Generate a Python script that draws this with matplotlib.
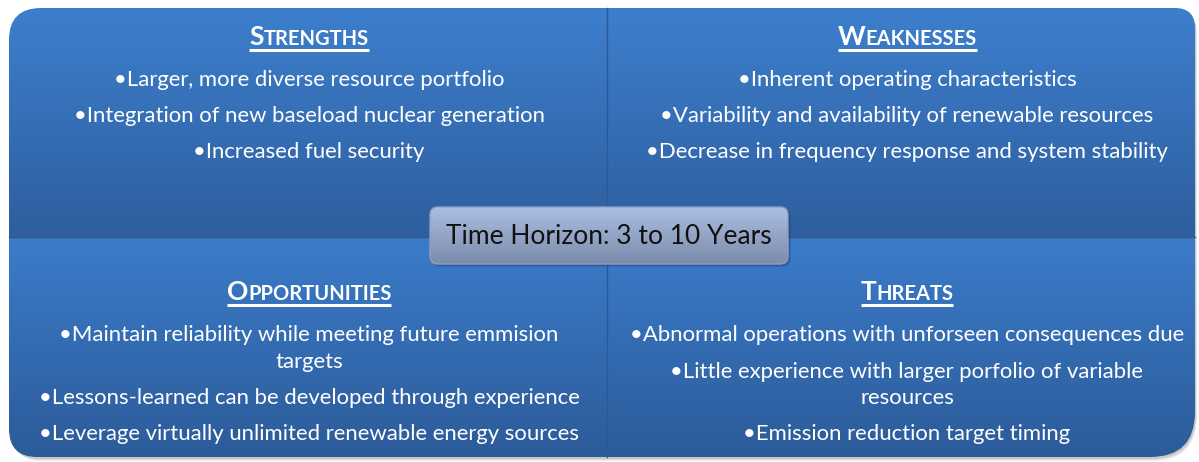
import matplotlib.pyplot as plt
import numpy as np
from matplotlib.path import Path
from matplotlib.patches import PathPatch, FancyBboxPatch
from matplotlib.colors import LinearSegmentedColormap

W, H = 1199, 462
FONT = "Lato"

# SWOT contents
headings = ["Strengths", "Weaknesses", "Opportunities", "Threats"]
strengths = ["Larger, more diverse resource portfolio",
             "Integration of new baseload nuclear generation",
             "Increased fuel security"]
weaknesses = ["Inherent operating characteristics",
              "Variability and availability of renewable resources",
              "Decrease in frequency response and system stability"]
opportunities = ["Maintain reliability while meeting future emmision\ntargets",
                 "Lessons-learned can be developed through experience",
                 "Leverage virtually unlimited renewable energy sources"]
threats = ["Abnormal operations with unforseen consequences due",
           "Little experience with larger porfolio of variable\nresources",
           "Emission reduction target timing"]
horizon = "Time Horizon: 3 to 10 Years"

fig = plt.figure(figsize=(W / 100, H / 100), dpi=100)
ax = fig.add_axes([0, 0, 1, 1])
ax.axis('off')

x0, x1, y0, y1 = 9, 1195, 8, 457
xm, ym = 607, 237


def rounded_path(a, b, c, d, r):
    tl, tr, br, bl = r
    verts = [(a + tl, c), (b - tr, c), (b, c), (b, c + tr), (b, d - br), (b, d), (b - br, d),
             (a + bl, d), (a, d), (a, d - bl), (a, c + tl), (a, c), (a + tl, c), (a + tl, c)]
    codes = [Path.MOVETO, Path.LINETO, Path.CURVE3, Path.CURVE3, Path.LINETO, Path.CURVE3,
             Path.CURVE3, Path.LINETO, Path.CURVE3, Path.CURVE3, Path.LINETO, Path.CURVE3,
             Path.CURVE3, Path.CLOSEPOLY]
    return Path(verts, codes)


def gradient_fill(patch, box, c_top, c_bot, z):
    a, b, c, d = box
    ax.add_patch(patch)
    cmap = LinearSegmentedColormap.from_list('g', [c_top, c_bot])
    grad = np.linspace(0, 1, 256).reshape(-1, 1)
    im = ax.imshow(grad, cmap=cmap, extent=(a, b, d, c), origin='upper',
                   aspect='auto', zorder=z, interpolation='bicubic')
    im.set_clip_path(patch)


# soft shadow under the whole shape
for k, al in [(4, 0.10), (3, 0.12), (2, 0.15)]:
    sh = rounded_path(x0 + k, x1 + k * 0.5, y0 + k, y1 + k, (32, 20, 45, 28))
    ax.add_patch(PathPatch(sh, facecolor='#606060', edgecolor='none', alpha=al, zorder=1))

quads = [((x0, xm, y0, ym), (32, 0, 0, 0), '#3D7FCD', '#2E5E9E'),
         ((xm, x1, y0, ym), (0, 20, 0, 0), '#3D7FCD', '#2E5E9E'),
         ((x0, xm, ym, y1), (0, 0, 0, 28), '#3B7CCA', '#2C5B99'),
         ((xm, x1, ym, y1), (0, 0, 45, 0), '#3B7CCA', '#2C5B99')]
for box, r, ct, cb in quads:
    p = PathPatch(rounded_path(*box, r), facecolor='none', edgecolor='none')
    gradient_fill(p, box, ct, cb, 2)

ax.plot([xm, xm], [y0, y1], color='#2C5894', lw=1.0, zorder=3)
ax.plot([x0, x1], [ym, ym], color='#2C5894', lw=1.0, zorder=3)


def heading(word, cx, base):
    t1 = ax.text(0, base, word[0].upper(), fontsize=19, weight='bold', color='white',
                 family=FONT, va='baseline', ha='left', zorder=6)
    t2 = ax.text(0, base, word[1:].upper(), fontsize=14.5, weight='bold', color='white',
                 family=FONT, va='baseline', ha='left', zorder=6)
    rend = fig.canvas.get_renderer()
    w1 = t1.get_window_extent(rend).width
    w2 = t2.get_window_extent(rend).width
    left = cx - (w1 + w2) / 2
    t1.set_x(left)
    t2.set_x(left + w1)
    ax.plot([left, left + w1 + w2], [base + 4.5] * 2, color='white', lw=2.2,
            solid_capstyle='butt', zorder=6)


def bullets(items, cx, base, gap_wrap=26.5, gap_item=36.5):
    y = base
    for i, item in enumerate(items):
        if i:
            y += gap_item
        for j, line in enumerate(item.split("\n")):
            if j:
                y += gap_wrap
            ax.text(cx, y, ("\u2022" if j == 0 else "") + line, fontsize=15.9,
                    color='white', family=FONT, ha='center', va='baseline', zorder=6)


ax.set_xlim(0, W)
ax.set_ylim(H, 0)

cols = [309, 907]
head_base = [45, 300.5]
for k, (name, items) in enumerate(zip(headings, [strengths, weaknesses, opportunities, threats])):
    cx = cols[k % 2]
    hb = head_base[k // 2]
    heading(name, cx, hb)
    bullets(items, cx, hb + 40.5)

# centre box
bx, by, bw, bh = 430, 207, 358, 57
for k, al in [(3, 0.15), (2, 0.2)]:
    ax.add_patch(FancyBboxPatch((bx + k, by + k), bw, bh, boxstyle="round,pad=0,rounding_size=8",
                                facecolor='#1A2A44', edgecolor='none', alpha=al, zorder=7))
cb = FancyBboxPatch((bx, by), bw, bh, boxstyle="round,pad=0,rounding_size=8",
                    facecolor='none', edgecolor='none', zorder=8)
gradient_fill(cb, (bx, bx + bw, by, by + bh), '#ABBFE2', '#7C8BAA', 8)
ax.add_patch(FancyBboxPatch((bx, by), bw, bh, boxstyle="round,pad=0,rounding_size=8",
                            facecolor='none', edgecolor='#8E9FC2', lw=1.0, zorder=9))
ax.text(bx + bw / 2, 244, horizon, fontsize=19, color='#111111', family=FONT,
        ha='center', va='baseline', zorder=10)

ax.set_xlim(0, W)
ax.set_ylim(H, 0)
fig.savefig('out.png', dpi=100, facecolor='white')
